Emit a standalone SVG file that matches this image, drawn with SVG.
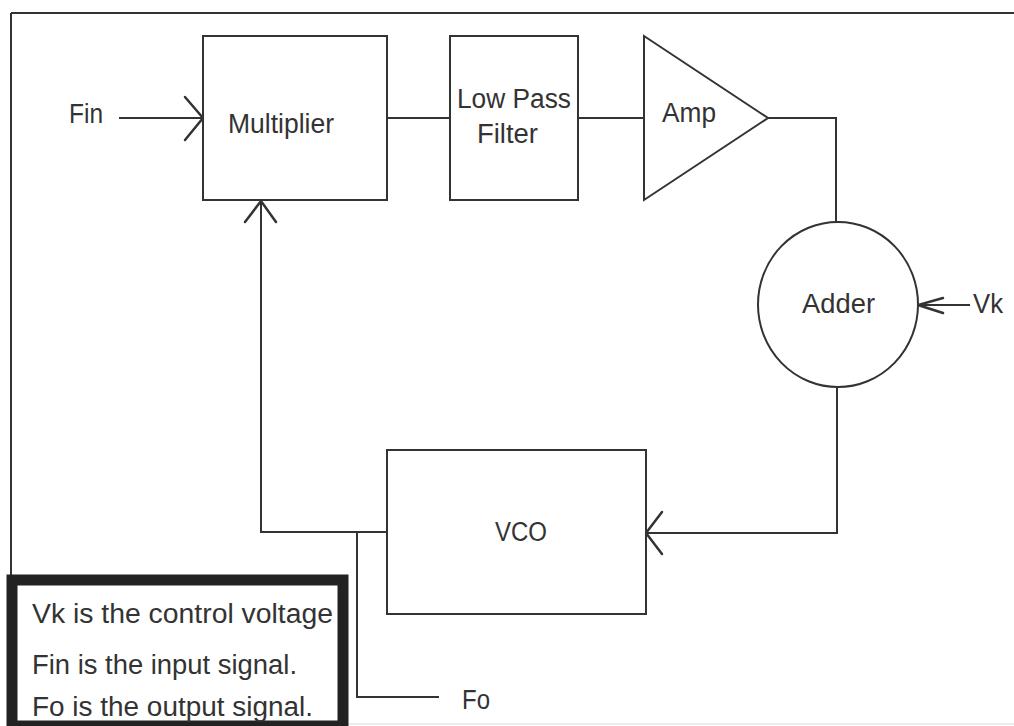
<svg xmlns="http://www.w3.org/2000/svg" width="1014" height="726" viewBox="0 0 1014 726">
<style>
.ln{fill:none;stroke:#333;stroke-width:2;stroke-linejoin:miter;stroke-linecap:butt}
.hd{fill:none;stroke:#333;stroke-width:2.5;stroke-linecap:round;stroke-linejoin:miter}
.box{fill:#fff;stroke:#333;stroke-width:2}
.t{font-family:"Liberation Sans",Arial,sans-serif;font-size:27px;fill:#333}
</style>
<rect x="0" y="0" width="1014" height="726" fill="#fff"/>
<g id="frame">
<path class="ln" d="M11,13 H1014 M11,13 V576" stroke-width="2.5"/>
<path d="M348,724 H1014" stroke="#e6e6e6" stroke-width="1.5"/>
</g>
<g id="connectors">
<path class="ln" d="M119,118 H203"/>
<path class="hd" d="M185,97 L203,118 L185,140"/>
<path class="ln" d="M387,118 H450"/>
<path class="ln" d="M578,118 H644"/>
<path class="ln" d="M768,118 H836 V222"/>
<path class="ln" d="M970,305 H918"/>
<path class="hd" d="M943,298 L918,305 L943,313"/>
<path class="ln" d="M837,387 V533 H646"/>
<path class="hd" d="M662,512 L646,533 L662,554"/>
<path class="ln" d="M387,532 H261 V200"/>
<path class="hd" d="M245,222 L261,201 L276,222"/>
<path class="ln" d="M357,532 V697 H439"/>
</g>
<g id="multiplier">
<rect class="box" x="203" y="36" width="184" height="164"/>
<text class="t" x="228" y="133" textLength="106" lengthAdjust="spacingAndGlyphs">Multiplier</text>
</g>
<g id="lowpass">
<rect class="box" x="450" y="36" width="128" height="164"/>
<text class="t" x="457" y="108" textLength="114" lengthAdjust="spacingAndGlyphs">Low Pass</text>
<text class="t" x="477" y="143" textLength="61" lengthAdjust="spacingAndGlyphs">Filter</text>
</g>
<g id="amp">
<polygon class="box" points="644,36 768,118 644,200"/>
<text class="t" x="662" y="122" textLength="54" lengthAdjust="spacingAndGlyphs">Amp</text>
</g>
<g id="adder">
<ellipse class="box" cx="838" cy="304.5" rx="80" ry="82.5"/>
<text class="t" x="802" y="313" textLength="73" lengthAdjust="spacingAndGlyphs">Adder</text>
</g>
<g id="vco">
<rect class="box" x="387" y="450" width="259" height="164"/>
<text class="t" x="495" y="541" textLength="52" lengthAdjust="spacingAndGlyphs">VCO</text>
</g>
<g id="labels">
<text class="t" x="69" y="123" textLength="34" lengthAdjust="spacingAndGlyphs">Fin</text>
<text class="t" x="973" y="313" textLength="30" lengthAdjust="spacingAndGlyphs">Vk</text>
<text class="t" x="462" y="709" textLength="28" lengthAdjust="spacingAndGlyphs">Fo</text>
</g>
<g id="legend">
<rect x="12" y="580" width="331" height="146" fill="#fff" stroke="#222" stroke-width="11"/>
<text class="t" x="32" y="623" textLength="301" lengthAdjust="spacingAndGlyphs">Vk is the control voltage</text>
<text class="t" x="32" y="674" textLength="265" lengthAdjust="spacingAndGlyphs">Fin is the input signal.</text>
<text class="t" x="32" y="716" textLength="281" lengthAdjust="spacingAndGlyphs">Fo is the output signal.</text>
</g>
</svg>
